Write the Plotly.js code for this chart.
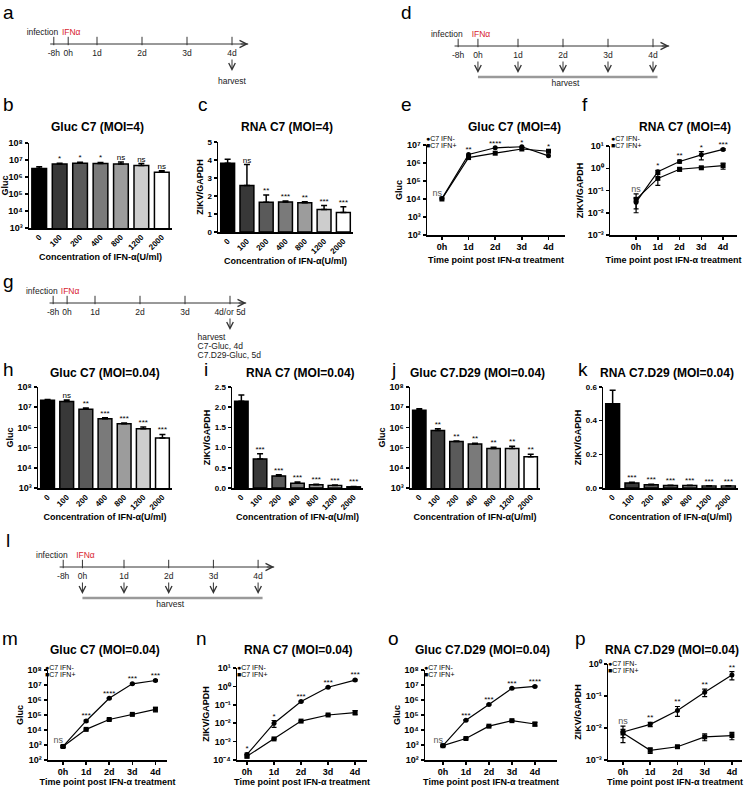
<!DOCTYPE html>
<html><head><meta charset="utf-8">
<script src="https://cdn.plot.ly/plotly-3.0.1.min.js"></script>
<style>html,body{margin:0;padding:0;background:#fff}</style>
</head><body><div id="chart" style="width:750px;height:787px"></div>
<script>
// ---------------- data ----------------
const conc = ['0','100','200','400','800','1200','2000'];
const timePts = ['0h','1d','2d','3d','4d'];
const seriesNames = ['C7 IFN-','C7 IFN+'];

// b: Gluc C7 (MOI=4)
const bGluc = [3.2e6, 5.8e6, 6.5e6, 6.2e6, 5.8e6, 4.8e6, 1.9e6];
const bGlucErr = [0.8e6, 0.6e6, 0.8e6, 1.0e6, 1.8e6, 1.4e6, 0.4e6];
const bSig = ['', '*', '*', '*', 'ns', 'ns', 'ns'];
// c: RNA C7 (MOI=4)
const cRna = [3.82, 2.58, 1.65, 1.67, 1.62, 1.25, 1.08];
const cRnaErr = [0.22, 1.17, 0.40, 0.05, 0.06, 0.22, 0.32];
const cSig = ['', 'ns', '**', '***', '**', '***', '***'];
// e: Gluc C7 (MOI=4) time course
const eNeg = [1.05e4, 3.0e6, 7.0e6, 8.0e6, 2.5e6];
const ePos = [1.0e4, 2.0e6, 3.5e6, 6.0e6, 4.5e6];
const eSig = ['ns', '**', '****', '*', '*'];
// f: RNA C7 (MOI=4) time course
const fNeg = [0.03, 0.7, 2.0, 4.0, 7.0];
const fNegErr = [0.015, 0.1, 0.3, 1.6, 0.6];
const fPos = [0.04, 0.35, 0.9, 1.05, 1.3];
const fPosErr = [0.03, 0.18, 0.15, 0.1, 0.4];
const fSig = ['ns', '*', '**', '*', '***'];
// h: Gluc C7 (MOI=0.04)
const hGluc = [2.2e7, 1.9e7, 8.0e6, 2.7e6, 1.5e6, 8.5e5, 3.0e5];
const hGlucErr = [2.0e6, 4.0e6, 1.0e6, 3.0e5, 1.5e5, 2.0e5, 1.5e5];
const hSig = ['', 'ns', '**', '***', '***', '***', '***'];
// i: RNA C7 (MOI=0.04)
const iRna = [2.15, 0.72, 0.30, 0.12, 0.08, 0.06, 0.03];
const iRnaErr = [0.15, 0.13, 0.03, 0.03, 0.01, 0.015, 0.01];
const iSig = ['', '***', '***', '***', '***', '***', '***'];
// j: Gluc C7.D29 (MOI=0.04)
const jGluc = [7.0e6, 7.0e5, 2.0e5, 1.5e5, 9.0e4, 9.0e4, 3.5e4];
const jGlucErr = [1.5e6, 1.5e5, 1.5e4, 1.5e4, 1.5e4, 2.5e4, 1.2e4];
const jSig = ['', '**', '**', '**', '**', '**', '**'];
// k: RNA C7.D29 (MOI=0.04)
const kRna = [0.50, 0.030, 0.020, 0.015, 0.015, 0.012, 0.012];
const kRnaErr = [0.08, 0.004, 0.003, 0.002, 0.002, 0.002, 0.002];
const kSig = ['', '***', '***', '***', '***', '***', '***'];
// m: Gluc C7 (MOI=0.04) time course
const mNeg = [8e2, 4e4, 1.3e6, 1.2e7, 2.0e7];
const mNegErr = [1e2, 5e3, 1e5, 1e6, 2e6];
const mPos = [8e2, 1.1e4, 5e4, 1.1e5, 2.4e5];
const mPosErr = [1e2, 1e3, 5e3, 1e4, 8e4];
const mSig = ['ns', '***', '****', '***', '***'];
// n: RNA C7 (MOI=0.04) time course
const nNeg = [2.0e-4, 1.0e-2, 0.15, 0.9, 2.2];
const nNegErr = [0.4e-4, 4e-3, 0.01, 0.05, 0.2];
const nPos = [1.6e-4, 1.4e-3, 1.3e-2, 2.8e-2, 3.8e-2];
const nPosErr = [0.3e-4, 1e-4, 1e-3, 2e-3, 1e-2];
const nSig = ['*', '*', '***', '***', '***'];
// o: Gluc C7.D29 (MOI=0.04) time course
const oNeg = [9e2, 4.5e4, 5e5, 6e6, 8e6];
const oNegErr = [1e2, 4e3, 4e4, 5e5, 8e5];
const oPos = [9e2, 2.7e3, 1.8e4, 4.2e4, 2.5e4];
const oPosErr = [1e2, 2e2, 1.5e3, 3e3, 7e3];
const oSig = ['ns', '***', '***', '***', '****'];
// p: RNA C7.D29 (MOI=0.04) time course
const pNeg = [7.5e-3, 1.3e-2, 3.5e-2, 0.13, 0.45];
const pNegErr = [4e-3, 2e-3, 1.2e-2, 0.035, 0.13];
const pPos = [7.0e-3, 2.0e-3, 2.6e-3, 5.3e-3, 5.8e-3];
const pPosErr = [2e-3, 4e-4, 2e-4, 1.3e-3, 1.5e-3];
const pSig = ['ns', '**', '**', '**', '**'];

// tick labels
const expGluc38 = [3,4,5,6,7,8];
const expGluc27 = [2,3,4,5,6,7];
const expGluc28 = [2,3,4,5,6,7,8];
const expRnaF = [-3,-2,-1,0,1];
const expRnaN = [-4,-3,-2,-1,0,1];
const expRnaP = [-3,-2,-1,0];
const cTicks = [0,1,2,3,4,5];
const iTicks = [0,0.5,1.0,1.5,2.0,2.5];
const kTicks = [0,0.2,0.4,0.6];

// timelines (schematic positions)
const tlLabels = ['-8h','0h','1d','2d','3d','4d'];
const tlLabelsG = ['-8h','0h','1d','2d','3d','4d/or 5d'];
const tlPosA = [0.04, 0.36, 1, 2, 3, 4];
const tlPosD = [-0.33, 0.11, 1, 2, 3, 4];
const tlPosG = [0.07, 0.38, 1, 2, 3, 4];
const tlPosL = [-0.36, 0.07, 1, 2, 3, 4];
const gNotes = ['harvest', 'C7-Gluc, 4d', 'C7.D29-Gluc, 5d'];

// ---------------- styling / layout ----------------
const W = 750, H = 787;
const F = '"Liberation Sans", Arial, Helvetica, sans-serif';
const TLF = 8.5;
const barColors = ['#000000','#383838','#5a5a5a','#7a7a7a','#9c9c9c','#cdcdcd','#ffffff'];
const SUP = {'0':'⁰','1':'¹','2':'²','3':'³','4':'⁴','5':'⁵','6':'⁶','7':'⁷','8':'⁸','9':'⁹','-':'⁻'};
const data = [];
const layout = {width:W, height:H, margin:{l:0,r:0,t:0,b:0}, showlegend:false,
  paper_bgcolor:'#fff', plot_bgcolor:'rgba(0,0,0,0)', font:{family:F,color:'#000'},
  annotations:[], shapes:[]};

function sfx(n){ return n===1 ? '' : String(n); }
function baseAxis(){ return {showline:true, linecolor:'#000', linewidth:1.5, showgrid:false, zeroline:false,
  ticks:'outside', ticklen:3, tickwidth:1.5, tickcolor:'#000',
  tickfont:{family:F,size:8,color:'#000',weight:'bold'}, fixedrange:true, automargin:false}; }
function setAxes(n, xpx, ypx, xo, yo){
  const s = sfx(n);
  layout['xaxis'+s] = Object.assign(baseAxis(), {domain:[xpx[0]/W, xpx[1]/W], anchor:'y'+s}, xo);
  layout['yaxis'+s] = Object.assign(baseAxis(), {domain:[1-ypx[1]/H, 1-ypx[0]/H], anchor:'x'+s}, yo);
}
function supText(e){ return '10' + String(e).split('').map(c=>SUP[c]).join(''); }
function logAxis(exps){ return {type:'log', range:[exps[0], exps[exps.length-1]],
  tickvals:exps.map(e=>Math.pow(10,e)), ticktext:exps.map(supText),
  tickfont:{family:F,size:9,color:'#000',weight:'bold'}}; }
function linAxis(ticks, fmt){ return {type:'linear', range:[ticks[0], ticks[ticks.length-1]], tickvals:ticks, tickformat:fmt}; }
function ttl(text, standoff){ return {text:text, font:{family:F,size:9,color:'#000',weight:'bold'}, standoff:standoff}; }
function txt(x, y, text, size, o){
  layout.annotations.push(Object.assign({xref:'paper', yref:'paper', x:x/W, y:1-y/H, text:text, showarrow:false,
    xanchor:'center', yanchor:'middle', font:{family:F, size:size, color:'#000'}}, o||{}));
}
function keep(sig){ return sig.map((s,i)=>s!=='' ? i : -1).filter(i=>i>=0); }

function barPanel(n, xpx, ypx, vals, errs, sig, yo, ytitle){
  const s = sfx(n), xa = 'x'+s, ya = 'y'+s;
  data.push({type:'bar', x:conc, y:vals, xaxis:xa, yaxis:ya, width:0.72,
    marker:{color:barColors, line:{color:'#000', width:1.5}},
    error_y:{type:'data', array:errs, arrayminus:errs.map(()=>0), symmetric:false, color:'#000', thickness:1.5, width:3},
    hoverinfo:'skip'});
  const k = keep(sig);
  data.push({type:'scatter', mode:'text', x:k.map(i=>conc[i]), y:k.map(i=>vals[i]+errs[i]), text:k.map(i=>sig[i]),
    textposition:'top center', textfont:{family:F, size:8, color:'#000'}, cliponaxis:false,
    xaxis:xa, yaxis:ya, hoverinfo:'skip'});
  setAxes(n, xpx, ypx,
    {type:'category', range:[-0.5, 6.5], tickangle:-45, ticks:'', tickfont:{family:F,size:8,color:'#000',weight:'bold'},
     title:ttl('Concentration of IFN-α(U/ml)', 1)},
    Object.assign({title:ttl(ytitle, 2)}, yo));
}

function errObj(e){ return e ? {type:'data', array:e, symmetric:true, color:'#000', thickness:1.2, width:2.5} : {visible:false}; }
function linePanel(n, xpx, ypx, xr, neg, negErr, pos, posErr, sig, yo, ytitle, nsPos, xStand){
  const s = sfx(n), xa = 'x'+s, ya = 'y'+s;
  const common = {type:'scatter', mode:'lines+markers', x:timePts, xaxis:xa, yaxis:ya,
    line:{color:'#000', width:1.2}, cliponaxis:false, hoverinfo:'skip'};
  data.push(Object.assign({}, common, {name:seriesNames[1], y:pos, marker:{symbol:'square', size:5, color:'#000'}, error_y:errObj(posErr)}));
  data.push(Object.assign({}, common, {name:seriesNames[0], y:neg, marker:{symbol:'circle', size:5, color:'#000'}, error_y:errObj(negErr)}));
  const top = neg.map((v,i)=>Math.max(v + (negErr?negErr[i]:0), pos[i] + (posErr?posErr[i]:0)));
  data.push({type:'scatter', mode:'text', x:timePts, y:top, text:sig,
    textposition:sig.map(t=>t==='ns'?nsPos:'top center'),
    textfont:{family:F, size:sig.map(t=>t==='ns'?9:8), color:sig.map(t=>t==='ns'?'#555':'#000')},
    cliponaxis:false, xaxis:xa, yaxis:ya, hoverinfo:'skip'});
  setAxes(n, xpx, ypx,
    {type:'category', range:xr, ticklen:3, tickfont:{family:F,size:9,color:'#000',weight:'bold'},
     title:ttl('Time point post IFN-α treatment', xStand)},
    Object.assign({title:ttl(ytitle, 2)}, yo));
}
function legendText(x, y){
  txt(x, y, '●' + seriesNames[0], 7, {xanchor:'left'});
  txt(x, y+7, '■' + seriesNames[1], 7, {xanchor:'left'});
}

function timeline(n, xpx, ypx, lineY, origin, unit, labels, pos, harvestIdx, harvestBar){
  const s = String(n), xa = 'x'+s, ya = 'y'+s;
  layout['xaxis'+s] = {domain:[xpx[0]/W, xpx[1]/W], range:[(xpx[0]-origin)/unit, (xpx[1]-origin)/unit], visible:false, fixedrange:true, anchor:ya};
  layout['yaxis'+s] = {domain:[1-ypx[1]/H, 1-ypx[0]/H], range:[ypx[1]-lineY, ypx[0]-lineY], visible:false, fixedrange:true, anchor:xa};
  const last = pos[pos.length-1];
  const endX = last + 0.36;
  const base = {type:'scatter', xaxis:xa, yaxis:ya, cliponaxis:false, hoverinfo:'skip'};
  data.push(Object.assign({}, base, {mode:'lines', x:[pos[0]-0.08, endX], y:[0,0], line:{color:'#333', width:1}}));
  layout.annotations.push({xref:xa, yref:ya, axref:xa, ayref:ya, x:endX, y:0, ax:endX-0.2, ay:0, text:'',
    showarrow:true, arrowhead:5, arrowsize:1.4, arrowwidth:1, arrowcolor:'#333'});
  data.push(Object.assign({}, base, {mode:'markers', x:pos, y:pos.map(()=>-3),
    marker:{symbol:'line-ns', size:6, color:'#333', line:{width:1, color:'#333'}}}));
  data.push(Object.assign({}, base, {mode:'text', x:pos, y:pos.map(()=>10), text:labels,
    textposition:'middle center', textfont:{family:F, size:TLF, color:'#222'}}));
  data.push(Object.assign({}, base, {mode:'text', x:[pos[0]+0.1], y:[-11], text:['infection'],
    textposition:'middle left', textfont:{family:F, size:TLF, color:'#222'}}));
  data.push(Object.assign({}, base, {mode:'text', x:[pos[1]-0.14], y:[-11], text:['IFNα'],
    textposition:'middle right', textfont:{family:F, size:TLF, color:'#d8232f'}}));
  harvestIdx.forEach(i=>{
    layout.annotations.push({xref:xa, yref:ya, axref:xa, ayref:ya, x:pos[i], y:27, ax:pos[i], ay:14, text:'',
      showarrow:true, arrowhead:5, arrowsize:1.3, arrowwidth:1, arrowcolor:'#333'});
  });
  if (harvestBar){
    data.push(Object.assign({}, base, {mode:'lines', x:[pos[1], last+0.1], y:[31,31], line:{color:'#9a9a9a', width:2.5}}));
    data.push(Object.assign({}, base, {mode:'text', x:[(pos[1]+last)/2], y:[38], text:['harvest'],
      textposition:'middle center', textfont:{family:F, size:TLF, color:'#222'}}));
  }
}

// ---------------- panels ----------------
// timelines
timeline(13, [10,290], [20,95], 44, 52, 45, tlLabels, tlPosA, [5], false);
data.push({type:'scatter', mode:'text', xaxis:'x13', yaxis:'y13', x:[tlPosA[5]], y:[38], text:['harvest'],
  textposition:'middle center', textfont:{family:F,size:TLF,color:'#222'}, cliponaxis:false, hoverinfo:'skip'});
timeline(14, [390,740], [20,95], 46, 473, 45, tlLabels, tlPosD, [1,2,3,4,5], true);
timeline(15, [10,290], [280,365], 303, 50, 45, tlLabelsG, tlPosG, [5], false);
data.push({type:'scatter', mode:'text', xaxis:'x15', yaxis:'y15', x:gNotes.map(()=>tlPosG[5]-0.72), y:[35,44,53], text:gNotes,
  textposition:'middle right', textfont:{family:F,size:TLF,color:'#222'}, cliponaxis:false, hoverinfo:'skip'});
timeline(16, [10,300], [540,615], 567, 79.3, 44.7, tlLabels, tlPosL, [1,2,3,4,5], true);

// row 2
barPanel(1, [29,172], [143,228], bGluc, bGlucErr, bSig, logAxis(expGluc38), 'Gluc');
barPanel(2, [218,353], [142,232], cRna, cRnaErr, cSig, linAxis(cTicks, 'd'), 'ZIKV/GAPDH');
linePanel(3, [427,565], [145,235], [-0.56,4.62], eNeg, null, ePos, null, eSig, logAxis(expGluc27), 'Gluc', 'top left', 5);
linePanel(4, [610,737], [146,235], [-1.2,4.64], fNeg, fNegErr, fPos, fPosErr, fSig, logAxis(expRnaF), 'ZIKV/GAPDH', 'top center', 5);
// row 4
barPanel(5, [38,172], [387,488], hGluc, hGlucErr, hSig, logAxis(expGluc38), 'Gluc');
barPanel(6, [232,363], [387,488], iRna, iRnaErr, iSig, linAxis(iTicks, '.1f'), 'ZIKV/GAPDH');
barPanel(7, [410,540], [387,488], jGluc, jGlucErr, jSig, logAxis(expGluc38), 'Gluc');
barPanel(8, [603,738], [387,488], kRna, kRnaErr, kSig, linAxis(kTicks, '.1f'), 'ZIKV/GAPDH');
// row 6
linePanel(9, [48,167], [670,760], [-0.65,4.5], mNeg, mNegErr, mPos, mPosErr, mSig, logAxis(expGluc28), 'Gluc', 'top left', 1);
linePanel(10, [237,367], [668,760], [-0.37,4.44], nNeg, nNegErr, nPos, nPosErr, nSig, logAxis(expRnaN), 'ZIKV/GAPDH', 'top center', 1);
linePanel(11, [425,557], [670,760], [-0.78,4.96], oNeg, oNegErr, oPos, oPosErr, oSig, logAxis(expGluc28), 'Gluc', 'top left', 1);
linePanel(12, [608,742], [664,760], [-0.55,4.37], pNeg, pNegErr, pPos, pPosErr, pSig, logAxis(expRnaP), 'ZIKV/GAPDH', 'top center', 1);

// titles
function title(x, y, t){ txt(x, y, t, 12, {font:{family:F, size:12, color:'#000', weight:'bold'}}); }
title(98,127,'Gluc C7 (MOI=4)'); title(287,127,'RNA C7 (MOI=4)');
title(514,127,'Gluc C7 (MOI=4)'); title(685,127,'RNA C7 (MOI=4)');
title(105,373,'Gluc C7 (MOI=0.04)'); title(300,373,'RNA C7 (MOI=0.04)');
title(477,373,'Gluc C7.D29 (MOI=0.04)'); title(667,373,'RNA C7.D29 (MOI=0.04)');
title(105,650,'Gluc C7 (MOI=0.04)'); title(298,650,'RNA C7 (MOI=0.04)');
title(482,650,'Gluc C7.D29 (MOI=0.04)'); title(672,650,'RNA C7.D29 (MOI=0.04)');

// legends
legendText(424,138); legendText(609,138);
legendText(43,667); legendText(235,667); legendText(422,667); legendText(606,663);

// panel letters
[['a',8,12],['b',8,104],['c',203,104],['d',406,12],['e',406,104],['f',585,104],['g',8,281],
 ['h',8,369],['i',206,369],['j',393,369],['k',583,369],['l',8,540],['m',10,638],['n',202,638],['o',393,638],['p',580,638]]
 .forEach(l=>txt(l[1], l[2], l[0], 19));

Plotly.newPlot('chart', data, layout, {displayModeBar:false, staticPlot:true});
</script></body></html>
